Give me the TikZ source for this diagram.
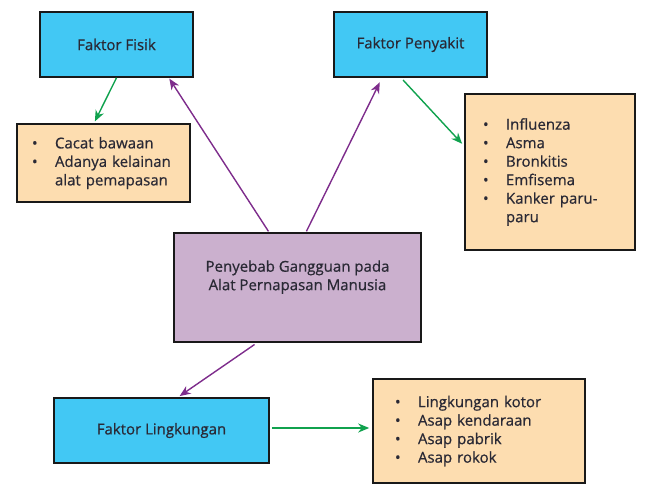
\documentclass[tikz,border=0pt]{standalone}
\usepackage{fontspec}
\setmainfont{Open Sans}[FakeBold=0.6]
\usetikzlibrary{arrows.meta}

\definecolor{biru}{HTML}{42C8F4}
\definecolor{jingga}{HTML}{FDDDB0}
\definecolor{ungu}{HTML}{CBB0CE}
\definecolor{panahungu}{HTML}{7E2D8C}
\definecolor{panahhijau}{HTML}{10A24E}
\definecolor{tinta}{HTML}{2A2935}

\newcommand{\butir}[1]{\makebox[23pt][l]{\textbullet}#1}
\newcommand{\lanjut}[1]{\hspace*{23pt}#1}

\begin{document}
\begin{tikzpicture}[x=1pt,y=-1pt,
  faktor/.style={draw=black!90,line width=1.6pt,fill=biru,text=tinta,
    minimum width=153pt,minimum height=65pt,inner sep=0pt,
    font=\fontsize{15}{18.5}\selectfont},
  daftar/.style={draw=black!90,line width=1.6pt,fill=jingga,text=tinta,
    align=left,inner ysep=0pt,font=\fontsize{15}{18.5}\selectfont},
  pusatbox/.style={draw=black!90,line width=1.6pt,fill=ungu,text=tinta,
    minimum width=247pt,minimum height=109pt,inner sep=0pt,align=center,
    font=\fontsize{15}{18.5}\selectfont},
  ke/.style={line width=1.4pt,-{Stealth[length=11pt,width=9pt,inset=3.5pt]}},
  kungu/.style={ke,draw=panahungu,fill=panahungu},
  khijau/.style={ke,draw=panahhijau,fill=panahhijau}]
  \useasboundingbox (0,0) rectangle (650,489);

  \node[faktor] (fisik) at (116.5,44.5) {Faktor Fisik};
  \node[faktor] (penyakit) at (410.5,44.5) {Faktor Penyakit};
  \node[faktor,minimum width=215pt] (lingk) at (161.5,430.5) {Faktor Lingkungan};
  \node[pusatbox] (pusat) at (297.5,287.5) {Penyebab Gangguan pada\\Alat Pernapasan Manusia\\[6pt]};

  \node[daftar,inner xsep=15pt,text width=143pt,minimum height=78pt] (cacat) at (103.5,163)
    {\butir{Cacat bawaan}\\\butir{Adanya kelainan}\\\lanjut{alat pemapasan}};
  \node[daftar,inner xsep=18pt,text width=134pt,minimum height=156pt] (sakit) at (550,172)
    {\butir{Influenza}\\\butir{Asma}\\\butir{Bronkitis}\\\butir{Emfisema}\\\butir{Kanker paru-}\\\lanjut{paru}\\[8pt]};
  \node[daftar,inner xsep=22pt,text width=168pt,minimum height=104pt] (asap) at (479,431)
    {\butir{Lingkungan kotor}\\\butir{Asap kendaraan}\\\butir{Asap pabrik}\\\butir{Asap rokok}};

  % panah dari pusat
  \draw[kungu,shorten <=1pt,shorten >=1pt] ([xshift=-28.5pt]pusat.north) -- ([xshift=-25pt]fisik.south east);
  \draw[kungu,shorten <=1pt,shorten >=5pt] ([xshift=8.5pt]pusat.north) -- ([xshift=-28.5pt]penyakit.south);
  \draw[kungu,shorten <=3pt,shorten >=2pt] ([xshift=-40.5pt]pusat.south) -- ([xshift=16.5pt]lingk.north);

  % panah ke daftar
  \draw[khijau,shorten >=2pt] (fisik.south) -- ([xshift=-9.5pt]cacat.north);
  \draw[khijau,shorten <=3pt,shorten >=3pt] ([xshift=-9.5pt]penyakit.south) -- ([yshift=26pt]sakit.west);
  \draw[khijau,shorten <=2pt,shorten >=3pt] ([yshift=2.5pt]lingk.east) -- ([yshift=2.5pt]lingk.east -| asap.west);

\end{tikzpicture}
\end{document}
